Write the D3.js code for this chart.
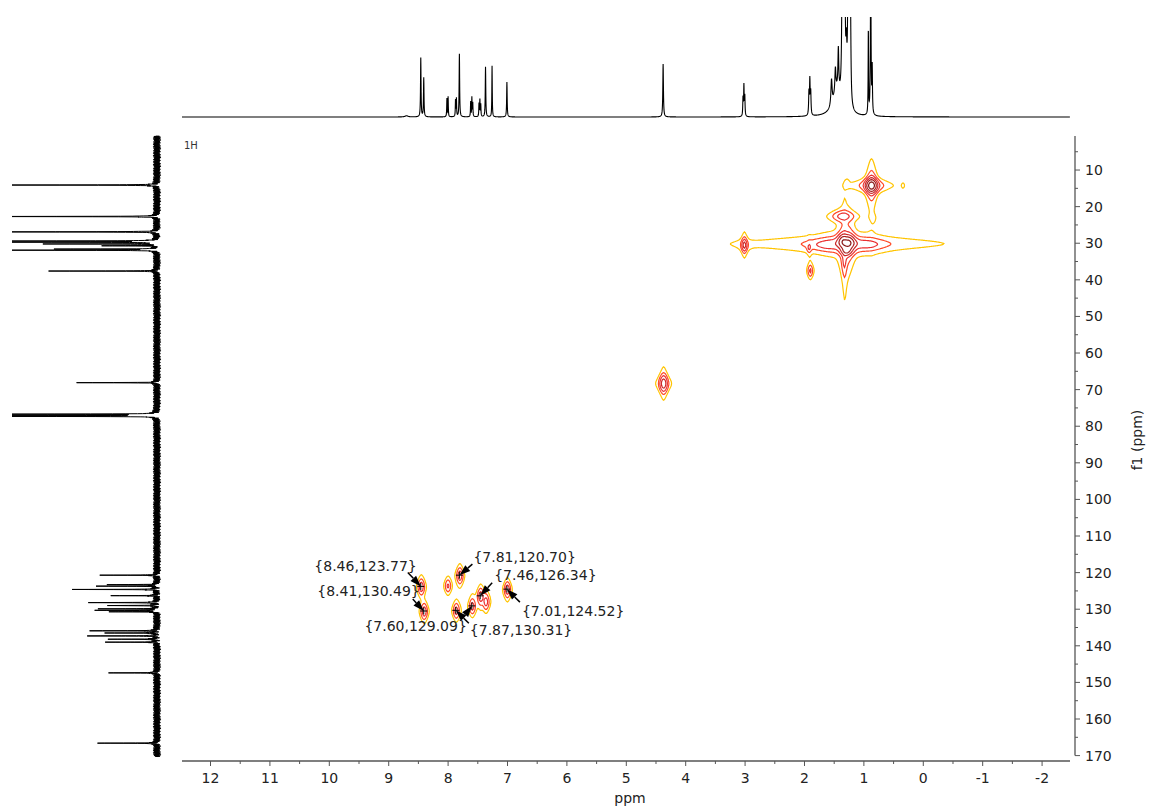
<!DOCTYPE html>
<html><head><meta charset="utf-8">
<script src="https://cdn.jsdelivr.net/npm/d3@7"></script>
<style>body{margin:0;background:#fff} svg{display:block} text{font-family:"DejaVu Sans",Verdana,sans-serif}</style>
</head><body><svg id="c" width="1149" height="810"></svg>
<script>
// ---------- DATA ----------
// 1H projection peaks: [ppm, height, half-width ppm]
const h1Peaks = [
  [8.70, 1.2, 0.03],
  [8.46, 59, 0.005], [8.41, 39, 0.005],
  [8.02, 18, 0.004], [8.00, 20, 0.004],
  [7.875, 17, 0.004], [7.86, 18, 0.004],
  [7.81, 63, 0.005],
  [7.62, 15, 0.004], [7.60, 19, 0.004], [7.585, 14, 0.004],
  [7.48, 13, 0.004], [7.465, 17, 0.004], [7.45, 12, 0.004],
  [7.37, 50, 0.005], [7.26, 51, 0.004], [7.01, 35, 0.005],
  [4.38, 53, 0.006],
  [3.035, 18, 0.005], [3.02, 30, 0.005], [3.005, 20, 0.005],
  [1.925, 22, 0.006], [1.91, 34, 0.006], [1.895, 22, 0.006],
  [1.45, 25, 0.08],
  [1.545, 26, 0.012], [1.48, 24, 0.01], [1.43, 40, 0.008],
  [1.365, 120, 0.01], [1.345, 110, 0.01], [1.32, 100, 0.01], [1.295, 45, 0.01],
  [1.265, 130, 0.01], [1.245, 120, 0.01], [1.225, 80, 0.008],
  [0.925, 86, 0.004], [0.885, 160, 0.006], [0.86, 45, 0.005]
];
// 13C projection peaks: [ppm, height, half-width ppm]
const c13Peaks = [
  [14.1, 200, 0.04], [22.7, 200, 0.04], [26.9, 200, 0.04],
  [29.4, 200, 0.04], [29.7, 200, 0.04], [30.2, 111, 0.04], [30.7, 54, 0.04],
  [31.6, 100, 0.04], [31.9, 200, 0.04], [37.6, 105, 0.04], [68.1, 81, 0.04],
  [76.7, 200, 0.04], [77.0, 200, 0.04], [77.3, 200, 0.04],
  [120.7, 56, 0.04], [123.3, 50, 0.04], [123.7, 63, 0.04], [124.6, 83, 0.04],
  [126.3, 44, 0.04], [128.2, 72, 0.04], [129.0, 53, 0.04], [129.9, 60, 0.04],
  [130.3, 60, 0.04], [130.7, 47, 0.04], [135.9, 65, 0.04], [136.5, 51, 0.04],
  [137.3, 68, 0.04], [138.2, 48, 0.04], [139.0, 50, 0.04], [147.4, 52, 0.04],
  [166.6, 63, 0.04]
];
// 13C baseline noise (hand-read amplitude pattern, cycled)
const c13Noise = [1.2,-2.4,3.1,-0.6,2.0,-3.5,0.3,2.8,-1.7,3.8,-2.7,0.8,-3.3,2.1,-1.0,3.4,
  -2.0,1.4,-3.8,2.5,-0.3,3.0,-2.2,0.9,-3.0,1.7,-1.4,3.6,-2.5,0.5,2.4,-3.4,1.0,-1.8,3.3,-0.8,1.5,-2.8,3.7,-1.2];
// 2D cross peaks: [1H ppm, 13C ppm, intensity, 1H half-width, 13C half-width, lorentz fraction]
const crossPeaks = [
  [0.88, 14.1, 100, 0.058, 1.17, 0.4],
  [0.35, 14.1, 1.6, 0.02, 0.6, 0.4],
  [1.29, 13.3, 1.6, 0.025, 0.7, 0.4],
  [0.85, 23.0, 2.2, 0.025, 0.8, 0.4],
  [1.26, 29.8, 60, 0.07, 1.3, 0.4],
  [1.36, 29.4, 45, 0.06, 1.3, 0.4],
  [1.30, 31.9, 30, 0.06, 0.9, 0.4],
  [1.34, 35.0, 5, 0.03, 2.5, 0.4],
  [1.60, 30.3, 8, 0.2, 1.1, 0.4],
  [0.95, 30.2, 7, 0.2, 1.1, 0.4],
  [1.36, 22.5, 10, 0.12, 1.0, 0.4],
  [1.93, 31.2, 6, 0.025, 0.9, 0.4],
  [1.91, 37.4, 8, 0.03, 1.2, 0.4],
  [3.02, 30.4, 20, 0.031, 1.2, 0.4],
  [1.40, 30.0, 2.6, 1.2, 1.6, 1],
  [1.33, 34.0, 2, 0.03, 8, 1],
  [4.38, 68.2, 25, 0.044, 1.5, 0.4],
  [8.46, 123.77, 12, 0.036, 1.45, 0.4],
  [8.41, 130.49, 12, 0.036, 1.45, 0.4],
  [8.01, 123.5, 8, 0.036, 1.3, 0.4],
  [7.81, 120.70, 12, 0.036, 1.45, 0.4],
  [7.87, 130.31, 10, 0.036, 1.45, 0.4],
  [7.60, 129.09, 10, 0.036, 1.45, 0.4],
  [7.46, 126.34, 12, 0.036, 1.45, 0.4],
  [7.37, 127.9, 10, 0.036, 1.45, 0.4],
  [7.01, 124.52, 12, 0.036, 1.45, 0.4]
];
const annotations = [[8.46,123.77],[8.41,130.49],[7.81,120.70],[7.46,126.34],[7.01,124.52],[7.60,129.09],[7.87,130.31]];
const xTicks = [12,11,10,9,8,7,6,5,4,3,2,1,0,-1,-2];
const xMinor = [11.5,10.5,9.5,8.5,7.5,6.5,5.5,4.5,3.5,2.5,1.5,0.5,-0.5,-1.5];
const yTicks = [10,20,30,40,50,60,70,80,90,100,110,120,130,140,150,160,170];
const yMinor = [5,15,25,35,45,55,65,75,85,95,105,115,125,135,145,155,165];
const contourLevels = [1,3,7,15,30,60];
const contourColors = ['#ffc400','#ff4a26','#ea3030','#cc2828','#a81f1f','#861616'];

// ---------- LAYOUT ----------
// label placement: [text dx, text dy, anchor, arrow tail dx, tail dy] relative to peak pixel
const labelLayout = [
  [-4,-15,'end',-13,-14],
  [-4,-15,'end',-11,-12],
  [14,-13,'start',13,-11],
  [14,-16,'start',12,-13],
  [15,27,'start',13,13],
  [-5,25,'end',-10,13],
  [14,25,'start',13,13]
];
const P = {left:182, right:1070, top:136, bottom:761, yAxisBottom:755.6};

const svg = d3.select('#c');
svg.append('rect').attr('width',1149).attr('height',810).attr('fill','#fff');

const x = d3.scaleLinear().domain([12.48,-2.47]).range([P.left,P.right]);
const y = d3.scaleLinear().domain([0.7,170]).range([P.top,P.yAxisBottom]);

const defs = svg.append('defs');
defs.append('clipPath').attr('id','plotClip').append('rect')
  .attr('x',P.left).attr('y',P.top).attr('width',P.right-P.left).attr('height',P.bottom-P.top);
defs.append('clipPath').attr('id','topClip').append('rect')
  .attr('x',P.left-2).attr('y',17).attr('width',P.right-P.left+4).attr('height',110);
defs.append('clipPath').attr('id','leftClip').append('rect')
  .attr('x',12).attr('y',P.top-2).attr('width',160).attr('height',P.bottom-P.top+4);

// ---------- 1H projection ----------
const yTop = d3.scaleLinear().domain([0,100]).range([117,17]);
const h1Pts = [];
for (let p = 12.48; p >= -2.47; p -= 0.002) {
  let s = 0;
  for (const [c,h,w] of h1Peaks) { const u=(p-c)/w; s += h/(1+u*u); }
  h1Pts.push([p,s]);
}
svg.append('path').attr('clip-path','url(#topClip)')
  .attr('d', d3.line().x(d=>x(d[0])).y(d=>yTop(d[1]))(h1Pts))
  .attr('fill','none').attr('stroke','#000').attr('stroke-width',1.1);

// ---------- 13C projection ----------
const xC = d3.scaleLinear().domain([0,145]).range([157,12]);
const c13Pts = [];
let k = 0;
for (let p = 0.7; p <= 170.3; p += 0.02, k++) {
  let s = 0;
  for (const [c,h,w] of c13Peaks) { const u=(p-c)/w; s += h/(1+u*u); }
  s += c13Noise[Math.floor(k/3) % c13Noise.length];
  c13Pts.push([p,s]);
}
svg.append('path').attr('clip-path','url(#leftClip)')
  .attr('d', d3.line().x(d=>xC(d[1])).y(d=>y(d[0]))(c13Pts))
  .attr('fill','none').attr('stroke','#000').attr('stroke-width',1);

// ---------- 2D contours ----------
const GW = P.right-P.left, GH = P.bottom-P.top;
const grid = new Float64Array(GW*GH);
const colPpm = Array.from({length:GW},(_,i)=>x.invert(P.left+i));
const rowPpm = Array.from({length:GH},(_,j)=>y.invert(P.top+j));
const shape = (u,eta)=> eta/(1+u*u) + (1-eta)*Math.exp(-0.6931*u*u);
for (const [ph,pc,I,wh,wc,eta] of crossPeaks) {
  const lx = colPpm.map(p=>shape((p-ph)/wh,eta));
  const ly = rowPpm.map(p=>shape((p-pc)/wc,eta));
  for (let j=0;j<GH;j++){
    const a = I*ly[j]; if (a < 0.02) continue;
    const off = j*GW;
    for (let i=0;i<GW;i++) grid[off+i] += a*lx[i];
  }
}
const cont = d3.contours().size([GW,GH]).thresholds(contourLevels)(grid);
const cg = svg.append('g').attr('clip-path','url(#plotClip)')
  .append('g').attr('transform',`translate(${P.left},${P.top})`);
cont.forEach((c,i)=>{
  cg.append('path').attr('d', d3.geoPath()(c)).attr('fill','none')
    .attr('stroke', contourColors[i]).attr('stroke-width',1.2);
});

// ---------- annotations ----------
const ag = svg.append('g');
annotations.forEach((a,i)=>{
  const px = x(a[0]), py = y(a[1]);
  const [tdx,tdy,anchor,adx,ady] = labelLayout[i];
  ag.append('path').attr('d',`M${px-3.5},${py}H${px+3.5}M${px},${py-3.5}V${py+3.5}`)
    .attr('stroke','#000').attr('stroke-width',1);
  const tx = px+adx, ty = py+ady;
  const dx = px-tx, dy = py-ty, L = Math.hypot(dx,dy);
  const ux = dx/L, uy = dy/L;
  const hl = 11, hw = 3.8;
  const bx = px-ux*hl, by = py-uy*hl;
  ag.append('line').attr('x1',tx).attr('y1',ty).attr('x2',bx).attr('y2',by)
    .attr('stroke','#000').attr('stroke-width',1.5);
  ag.append('path').attr('d',`M${px},${py}L${bx-uy*hw},${by+ux*hw}L${bx+uy*hw},${by-ux*hw}Z`).attr('fill','#000');
  ag.append('text').attr('x',px+tdx).attr('y',py+tdy).attr('text-anchor',anchor)
    .attr('font-size',14).attr('fill','#222').text(`{${a[0].toFixed(2)},${a[1].toFixed(2)}}`);
});

// ---------- axes ----------
const axisColor = '#555';
const xg = svg.append('g').attr('transform',`translate(0,${P.bottom})`);
xg.append('line').attr('x1',P.left).attr('x2',P.right).attr('stroke',axisColor).attr('stroke-width',1.3);
xg.selectAll('.xt').data(xTicks).join('line').attr('x1',d=>x(d)).attr('x2',d=>x(d)).attr('y1',0).attr('y2',5).attr('stroke',axisColor);
xg.selectAll('.xm').data(xMinor).join('line').attr('x1',d=>x(d)).attr('x2',d=>x(d)).attr('y1',0).attr('y2',3).attr('stroke',axisColor);
xg.selectAll('text').data(xTicks).join('text').attr('x',d=>x(d)).attr('y',22).attr('text-anchor','middle')
  .attr('font-size',14).attr('fill','#222').text(d=>d);
svg.append('text').attr('x',630).attr('y',803).attr('text-anchor','middle').attr('font-size',14).attr('fill','#222').text('ppm');

const rx = 1075;
const yg = svg.append('g').attr('transform',`translate(${rx},0)`);
yg.append('line').attr('y1',P.top).attr('y2',P.yAxisBottom).attr('stroke',axisColor).attr('stroke-width',1.3);
yg.selectAll('.yt').data(yTicks).join('line').attr('y1',d=>y(d)).attr('y2',d=>y(d)).attr('x1',0).attr('x2',5).attr('stroke',axisColor);
yg.selectAll('.ym').data(yMinor).join('line').attr('y1',d=>y(d)).attr('y2',d=>y(d)).attr('x1',0).attr('x2',3).attr('stroke',axisColor);
yg.selectAll('text').data(yTicks).join('text').attr('x',10).attr('y',d=>y(d)).attr('dy','0.36em')
  .attr('font-size',14).attr('fill','#222').text(d=>d);
svg.append('text').attr('transform','translate(1142,440) rotate(-90)').attr('text-anchor','middle')
  .attr('font-size',14).attr('fill','#222').text('f1 (ppm)');

svg.append('text').attr('x',184).attr('y',149).attr('font-size',10).attr('fill','#333').text('1H');
</script></body></html>
